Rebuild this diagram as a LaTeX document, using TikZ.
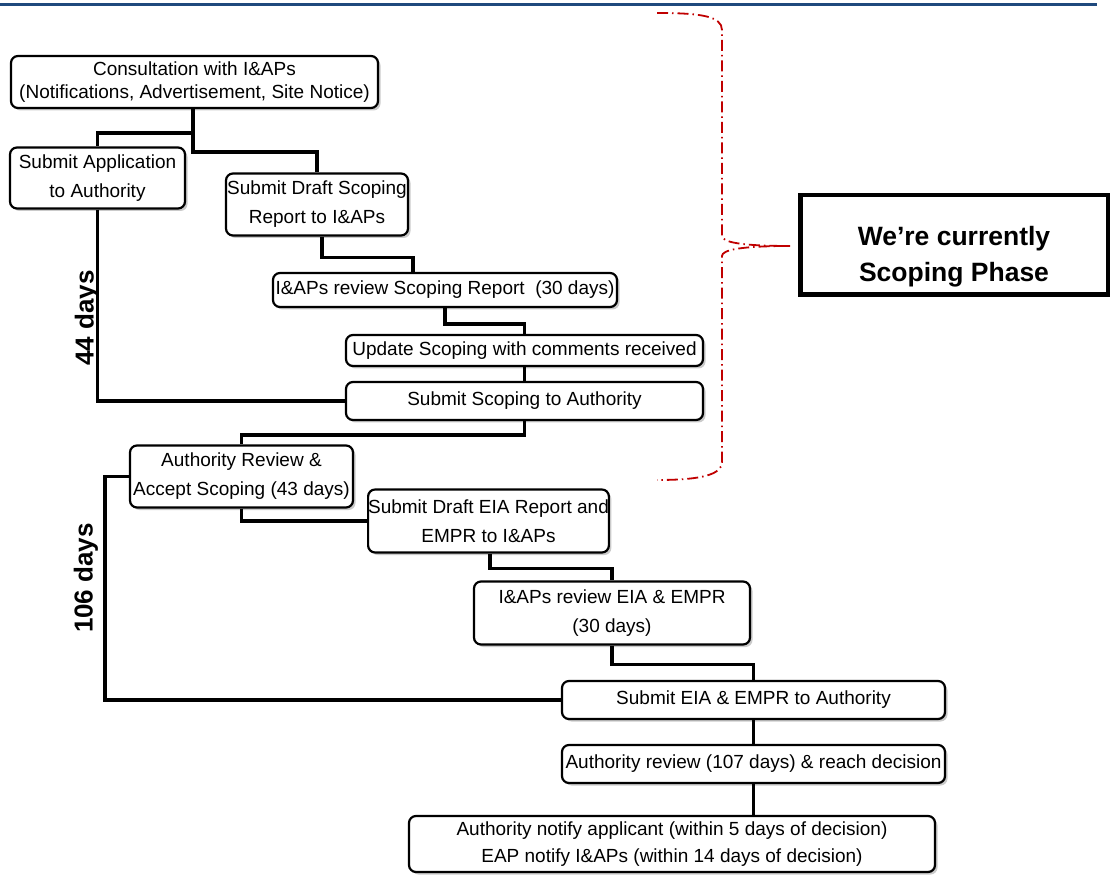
\documentclass[tikz,border=0pt]{standalone}
\usepackage{fontspec}
\setmainfont{Liberation Sans}
\usepackage{tikz}
\usetikzlibrary{calc, shadows}
\definecolor{myblue}{RGB}{31,73,125}
\definecolor{myred}{RGB}{192,0,0}
\definecolor{myshadow}{RGB}{150,150,150}
\tikzset{
  stagebox/.style={rectangle, draw=black, fill=white, rounded corners=7pt,
    line width=2.2pt, inner sep=0pt, align=center,
    font=\fontsize{19}{29}\selectfont,
    drop shadow={shadow xshift=2.5pt, shadow yshift=-2.5pt, fill=myshadow, opacity=0.5}},
  daylabel/.style={rotate=90, font=\fontsize{26}{30}\selectfont\bfseries},
  line/.style={line width=3.2pt, color=black},
  bracket/.style={line width=1.8pt, color=myred, dash pattern=on 11pt off 4pt on 1.5pt off 4pt}
}

\begin{document}
\begin{tikzpicture}[x=1pt, y=-1pt]
  \useasboundingbox (0,0) rectangle (1112,877);

  % Header rule
  \draw[myblue, line width=3pt] (0,5) -- (1097,5);

  % Scoping stages
  \node[stagebox, minimum width=367, minimum height=52, font=\fontsize{19}{23}\selectfont] (consult) at (194.5,82) {Consultation with I\&APs\\(Notifications, Advertisement, Site Notice)};
  \node[stagebox, minimum width=175, minimum height=61] (apply) at (97.5,178) {Submit Application\\to Authority};
  \node[stagebox, minimum width=182, minimum height=62] (draftsc) at (317,204.5) {Submit Draft Scoping\\Report to I\&APs};
  \node[stagebox, minimum width=344, minimum height=34] (reviewsc) at (445,290) {I\&APs review Scoping Report\ \ (30 days)};
  \node[stagebox, minimum width=357, minimum height=31] (updatesc) at (524.5,350.5) {Update Scoping with comments received};
  \node[stagebox, minimum width=357, minimum height=38] (submitsc) at (524.5,401) {Submit Scoping to Authority};

  % EIA stages
  \node[stagebox, minimum width=223, minimum height=62] (accept) at (241.5,476.5) {Authority Review \&\\Accept Scoping (43 days)};
  \node[stagebox, minimum width=239, minimum height=63] (drafteia) at (488.5,521) {Submit Draft EIA Report and\\EMPR to I\&APs};
  \node[stagebox, minimum width=276, minimum height=63] (revieweia) at (612,613) {I\&APs review EIA \& EMPR\\(30 days)};
  \node[stagebox, minimum width=383, minimum height=38] (submiteia) at (753.5,700) {Submit EIA \& EMPR to Authority};
  \node[stagebox, minimum width=383, minimum height=38] (decide) at (753.5,764) {Authority review (107 days) \& reach decision};
  \node[stagebox, minimum width=526, minimum height=56, font=\fontsize{19}{27}\selectfont] (notify) at (672,844) {Authority notify applicant (within 5 days of decision)\\EAP notify I\&APs (within 14 days of decision)};

  % Durations
  \node[daylabel] (days44) at (87,318) {44 days};
  \node[daylabel] (days106) at (86,578) {106 days};

  % Flow lines
  \draw[line] (consult.south -| 193,0) -- ++(0,24) -| (apply.north);
  \draw[line] (consult.south -| 193,0) -- ++(0,43) -| (draftsc.north);
  \draw[line] (apply.south) |- (submitsc.west);
  \draw[line] (draftsc.south -| 322,0) -- ++(0,21) -| (reviewsc.north -| 413,0);
  \draw[line] (reviewsc.south) -- ++(0,16) -| (updatesc.north);
  \draw[line] (updatesc.south) -- (submitsc.north);
  \draw[line] (submitsc.south) -- ++(0,14) -| (accept.north);
  \draw[line] (accept.south) |- (drafteia.west);
  \draw[line] (accept.west) -- ++(-24,0) |- (submiteia.west);
  \draw[line] (drafteia.south -| 490,0) -- ++(0,15) -| (revieweia.north);
  \draw[line] (revieweia.south) -- ++(0,19) -| (submiteia.north);
  \draw[line] (submiteia.south) -- (decide.north);
  \draw[line] (decide.south) -- (notify.north -| decide.south);

  % Current phase
  \node[rectangle, draw=black, line width=4.5pt, minimum width=307.5, minimum height=99.5,
    align=center, font=\fontsize{26.5}{36}\selectfont\bfseries] (phase) at (954,245)
    {\rule{0pt}{42pt}We’re currently\\Scoping Phase};
  \draw[bracket] (657,13) .. controls (700,13) and (722,16) .. (722,30) -- (722,236)
    .. controls (722,242) and (740,246) .. (790,246)
    .. controls (740,246) and (722,250) .. (722,256) -- (722,462)
    .. controls (722,475) and (700,480) .. (657,480);
\end{tikzpicture}
\end{document}
